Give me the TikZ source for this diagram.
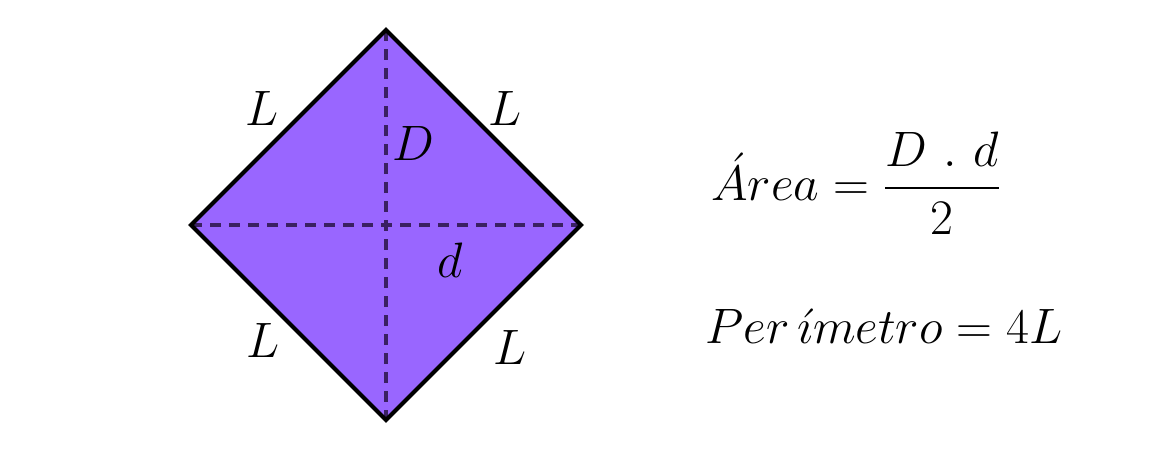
\documentclass[tikz,border=0pt]{standalone}
\usepackage{amsmath}
\definecolor{rfill}{RGB}{153,102,255}
\definecolor{rdash}{RGB}{58,32,98}
\begin{document}
\begin{tikzpicture}[x=0.5pt,y=-0.5pt,
  lab/.style={inner sep=0pt,font=\fontsize{23}{28}\selectfont},
  frm/.style={inner sep=0pt,anchor=base west,font=\fontsize{27}{32}\selectfont},
  diag/.style={draw=rdash,line width=2.2pt,dash pattern=on 5.5pt off 4pt},
  side/.style={draw=black,line width=2pt,line join=miter}]
\useasboundingbox (0,0) rectangle (1156,473);
\coordinate (T) at (386,30);
\coordinate (Lv) at (191,225);
\coordinate (R) at (581,225);
\coordinate (B) at (386,420);
\fill[rfill] (T) -- (R) -- (B) -- (Lv) -- cycle;
\draw[diag] (T) -- (B);
\draw[diag] (Lv) -- (R);
\draw[side] (T) -- (R) -- (B) -- (Lv) -- cycle;
\node[lab] (l1) at (262,108) {$L$};
\node[lab] (l2) at (505,108) {$L$};
\node[lab] (l3) at (263,340) {$L$};
\node[lab] (l4) at (510,347) {$L$};
\node[lab] (dD) at (413,143) {$D$};
\node[lab] (dd) at (450,260) {$d$};
\node[frm] (area) at (711,200) {$\acute{A}rea = \dfrac{D\ .\ d}{2}$};
\node[frm] (per) at (705,343) {$Per\,\acute{\imath}metro = 4L$};
\end{tikzpicture}
\end{document}
